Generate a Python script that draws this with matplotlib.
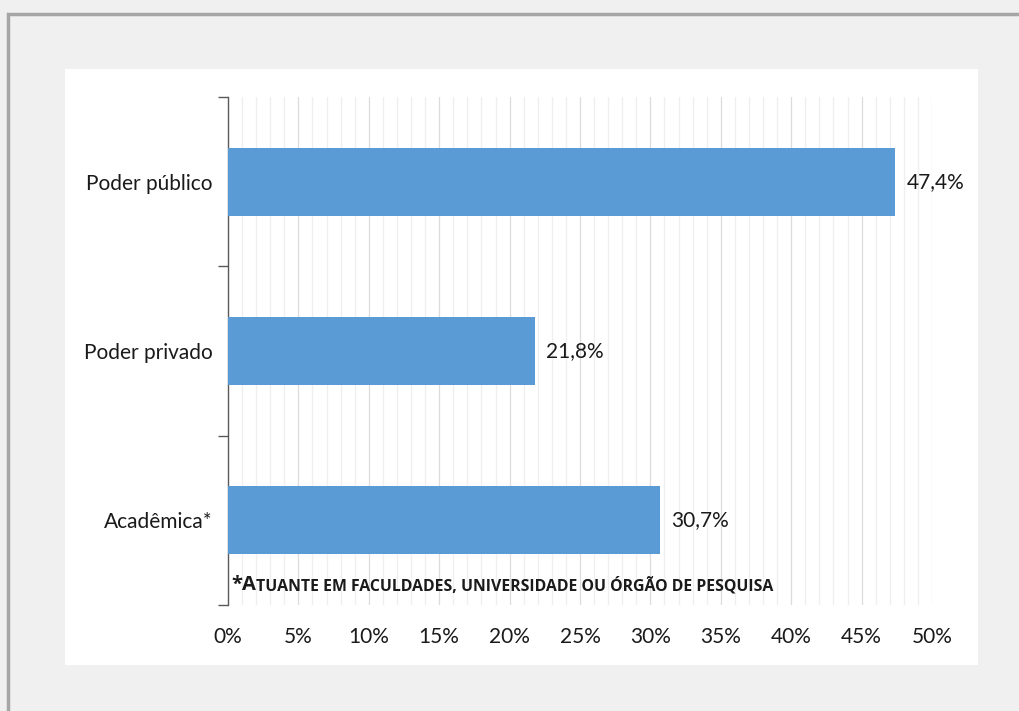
import matplotlib.pyplot as plt
from matplotlib.patches import Rectangle

plt.rcParams['font.family'] = ['Lato', 'DejaVu Sans']

categorias = ['Poder público', 'Poder privado', 'Acadêmica*']
valores = [47.4, 21.8, 30.7]
rotulos = ['47,4%', '21,8%', '30,7%']
ticks_x = [0, 5, 10, 15, 20, 25, 30, 35, 40, 45, 50]
nota_ini = '*A'
nota_resto = 'TUANTE EM FACULDADES, UNIVERSIDADE OU ÓRGÃO DE PESQUISA'

fig = plt.figure(figsize=(10.2, 7.11), dpi=100)
fig.patch.set_facecolor('#f0f0f0')

# moldura externa e area branca do grafico
fig.patches.append(Rectangle((8 / 1020, -0.02), 1.1, 1 - 14 / 711 + 0.02,
                             transform=fig.transFigure, fill=False,
                             edgecolor='#a6a6a6', linewidth=2.5, zorder=-10))
fig.patches.append(Rectangle((65 / 1020, 1 - 665 / 711), 913 / 1020, 596 / 711,
                             transform=fig.transFigure, facecolor='white',
                             edgecolor='none', zorder=-10))

ax = fig.add_axes([228 / 1020, 1 - 605 / 711, 704 / 1020, 508 / 711])
ax.set_facecolor('none')

pos = [2, 1, 0]
ax.barh(pos, valores, height=0.4, color='#5b9bd5', zorder=3)
for p, v, r in zip(pos, valores, rotulos):
    ax.text(v + 0.8, p, r, va='center', ha='left', fontsize=15, color='#1a1a1a')

ax.set_xlim(0, 50)
ax.set_ylim(-0.5, 2.5)

# linhas de grade verticais a cada 1%
for g in range(1, 51):
    cor = '#dcdcdc' if g % 5 == 0 else '#efefef'
    ax.axvline(g, color=cor, linewidth=0.9, zorder=1)

ax.set_xticks(ticks_x)
ax.set_xticklabels([f'{t}%' for t in ticks_x], fontsize=15, color='#1a1a1a')
ax.tick_params(axis='x', length=0, pad=16)

ax.set_yticks([-0.5, 0.5, 1.5, 2.5])
ax.set_yticklabels([])
ax.set_yticks(pos, minor=True)
ax.set_yticklabels(categorias, minor=True, fontsize=15, color='#1a1a1a')
ax.tick_params(axis='y', which='major', length=7, width=1, color='#595959')
ax.tick_params(axis='y', which='minor', length=0, pad=11)

for lado in ['top', 'right', 'bottom']:
    ax.spines[lado].set_visible(False)
ax.spines['left'].set_color('#595959')
ax.spines['left'].set_linewidth(1)

# nota de rodape em versalete
t1 = ax.text(0.25, -0.41, nota_ini, fontsize=14.5, fontweight='bold',
             family=['Open Sans', 'DejaVu Sans'],
             color='#1a1a1a', va='baseline', ha='left', zorder=4)
ax.annotate(nota_resto, xy=(1, 0), xycoords=t1, va='bottom', ha='left',
            fontsize=11.4, fontweight='bold', family=['Open Sans', 'DejaVu Sans'],
            color='#1a1a1a', zorder=4)

fig.savefig('out.png', dpi=100, facecolor=fig.get_facecolor())
